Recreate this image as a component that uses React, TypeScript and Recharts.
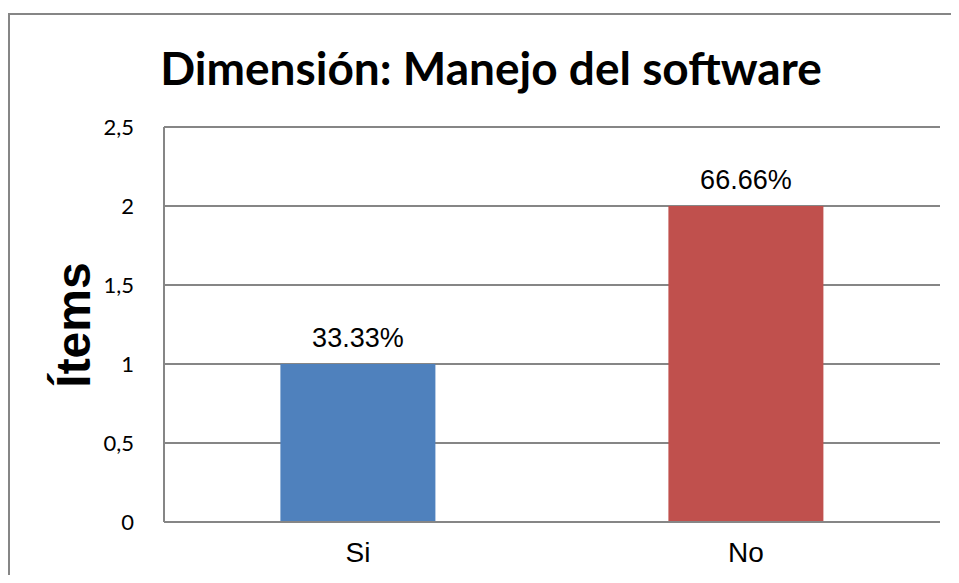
import React from 'react';
import { BarChart, Bar, XAxis, YAxis, CartesianGrid, Cell, LabelList } from 'recharts';

const categories = ['Si', 'No'];
const items = [1, 2];
const percentLabels = ['33.33%', '66.66%'];
const barColors = ['#4F81BD', '#C0504D'];
const yTicks = [0, 0.5, 1, 1.5, 2, 2.5];

const data = categories.map((name, i) => ({ name, value: items[i], label: percentLabels[i] }));

const gridColor = '#868686';
const W = 951;
const H = 567;

export default function App() {
  return (
    <div style={{ position: 'relative', width: W, height: H, overflow: 'hidden', background: '#fff' }}>
      {/* chart frame: only top and left edges are visible in the crop */}
      <div style={{ position: 'absolute', left: 0, top: 5, width: W, height: 2, background: gridColor }} />
      <div style={{ position: 'absolute', left: 0, top: 5, width: 2, height: H, background: gridColor }} />
      <BarChart
        width={W}
        height={H}
        data={data}
        margin={{ top: 119, right: 19, left: 0, bottom: 0 }}
        barCategoryGap="30%"
        style={{ position: 'absolute', left: 0, top: 0 }}
      >
        <CartesianGrid horizontal={true} vertical={false} stroke={gridColor} strokeWidth={2} />
        <XAxis
          dataKey="name"
          height={H - 514}
          axisLine={{ stroke: gridColor, strokeWidth: 2 }}
          tickLine={false}
          tick={{ fill: '#000', fontSize: 28, fontFamily: '"Liberation Sans", Arial, sans-serif' }}
          tickMargin={14}
        />
        <YAxis
          width={156}
          domain={[0, 2.5]}
          ticks={yTicks}
          interval={0}
          axisLine={{ stroke: gridColor, strokeWidth: 2 }}
          tickLine={false}
          tickMargin={24}
          tickFormatter={(v: number) => String(v).replace('.', ',')}
          tick={{ fill: '#000', fontSize: 22, fontFamily: 'Lato, sans-serif' }}
        />
        <Bar dataKey="value" isAnimationActive={false}>
          {data.map((d, i) => (
            <Cell key={d.name} fill={barColors[i]} />
          ))}
          <LabelList
            dataKey="label"
            position="top"
            offset={17}
            fill="#000"
            fontSize={27}
            fontFamily='"Liberation Sans", Arial, sans-serif'
          />
        </Bar>
      </BarChart>
      <svg
        width={W}
        height={H}
        style={{ position: 'absolute', left: 0, top: 0, pointerEvents: 'none' }}
      >
        <text
          x={483}
          y={77}
          textAnchor="middle"
          fontFamily="Lato, sans-serif"
          fontWeight="bold"
          fontSize={46}
          fill="#000"
        >
          Dimensión: Manejo del software
        </text>
        <text
          x={82}
          y={317}
          textAnchor="middle"
          transform="rotate(-90, 82, 317)"
          fontFamily='"Liberation Sans", Arial, sans-serif'
          fontWeight="bold"
          fontSize={48}
          fill="#000"
        >
          Ítems
        </text>
      </svg>
    </div>
  );
}
